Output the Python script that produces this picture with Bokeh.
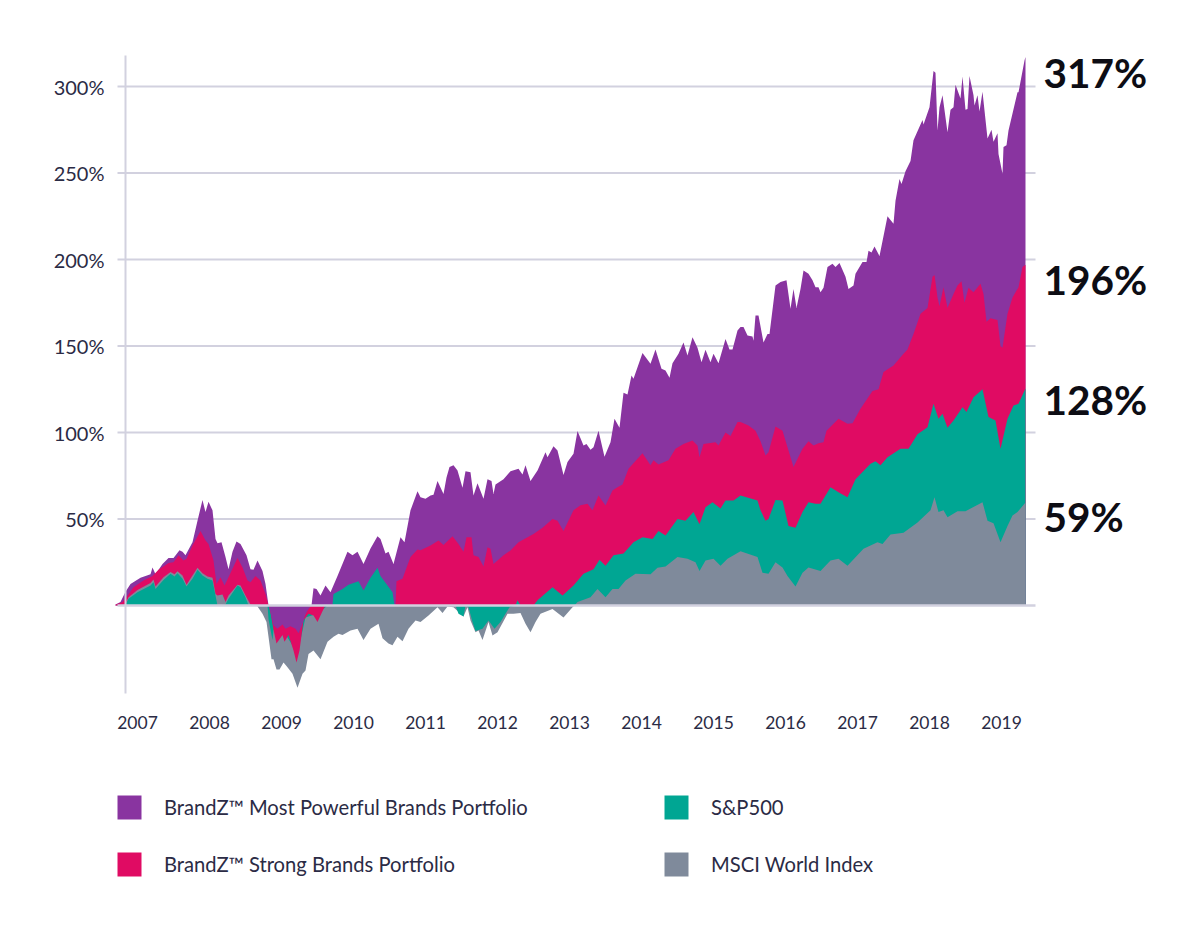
from bokeh.embed import file_html
from bokeh.models import (ColumnDataSource, FixedTicker, Label, Legend, LegendItem, LinearAxis, Range1d)
from bokeh.plotting import figure
from bokeh.resources import INLINE
import numpy as np

YEARS = list(range(2007, 2020))
Y_TICKS = [50, 100, 150, 200, 250, 300]
NAMES = ["BrandZ™ Most Powerful Brands Portfolio", "BrandZ™ Strong Brands Portfolio", "S&P500", "MSCI World Index"]
END_LABELS = ["317%", "196%", "128%", "59%"]
COLORS = ["#8934a0", "#e00b63", "#00a693", "#7f8a9b"]

# (period index, % return); 72 periods per year
PURPLE = [(0,0.6),(5,2),(10,8),(15,12.5),(25,16),(35,18),(37,22),(40,18),(47,24),(53,27.5),(58,27.5),(64,32),(67,31),(70,29),(77,36.6),(82,49),(87,61),(90,54),(93,60),(97,55),(100,38.5),(102,36),(106,36.6),(110,28),(113,21),(117,31),(121,37),(125,35.6),(131,29),(135,21),(138,20.6),(142,26),(147,20),(150,12.5),(153,0),
(155,-4),(158,-11.5),(162,-13.5),(167,-11),(170,-13.5),(175,-12),(180,-13.5),(183,-16),(187,-10.6),(190,-5),(193,-2),(196,0),(198,10),(201,9.6),(205,5.8),(210,11.5),(215,7.7),(222,17),(232,31),(237,29),(242,31),(248,24),(255,33),(262,40),(265,38.5),(270,30),(273,31),(278,24),(285,39.5),(289,36.6),(295,55),(302,66),
(305,62.6),(310,61.7),(315,63.6),(318,64),(322,72),(328,64.5),(331,74),(334,80),(338,81),(342,78),(347,68),(350,77.6),(355,77),(358,63.6),(362,70.7),(368,61.7),(372,73),(376,72),(378,64.5),(380,70),(388,73),(395,77.6),(403,79),(407,75.7),(410,81),(415,72),(422,78),(430,88.6),(432,85.7),(438,92),(442,89.6),(448,75.5),(452,83),(458,87.7),(462,100.8),(468,92.5),(471,93.4),(475,90),(478,91.5),(483,101),(489,86),(495,94.4),(499,108),(504,102.7),(508,123),(512,122),(516,133),(518,131),(527,146),(535,139.7),(540,148),(546,136.8),(550,135.8),(554,131.6),(557,140),(563,145.5),(568,152),(572,144.5),(577,155),(582,149),(586,140.6),(590,147.8),(595,140.6),(598,145.5),(603,140),(610,154),(614,148),(617,148),(622,159),
(625,161),(628,161),(632,156),(637,155.5),(638,153),(640,167.6),(643,167.6),(648,152),(652,157),(654,157),(660,185),(665,187),(671,188),(675,171.5),(678,183),(681,172),(685,183),(688,193.6),(693,191.7),(697,188),(700,184),(703,184),(705,181),(708,183.6),(712,195.6),(717,197.5),(720,195.6),(724,198),(730,190),(733,183),(738,185),(740,191.7),(747,198.5),(751,198.5),(753,205),(756,204),(759,207.5),(764,202),(772,225),(778,220.6),(780,234),(784,246.6),(786,243.7),(790,251),(795,257),(798,269),(807,280.7),(808,278),(814,288),(818,309),(820,308),(822,274.6),(824,288),(827,295),(832,273.6),(835,286.5),(838,288),(840,301),(845,293),(847,305.8),(850,286.5),(852,287),(854,306),(858,295),(859,289),(862,295),(864,285.5),(867,297),(872,270),(876,275),(878,268),(882,273),(883,261),(887,249.5),(888,265),(891,266),(893,274.6),(902,296.7),(903,296.7),(909,315),(910,317)]

PINK = [(0,0.4),(7,2),(12,5.7),(18,10.6),(28,14.4),(37,17),(43,20.6),(53,24.5),(58,25),(63,29),(68,26),(71,27),(77,34.7),(85,43),(90,37.6),(93,35.6),(98,26),(101,12.5),(105,16.4),(109,11.6),(113,16.4),(122,27.5),(127,22),(132,14.5),(135,13.5),(140,17),(145,14.5),(150,6.7),(153,0),
(155,-4),(158,-14),(161,-22),(167,-17),(169,-21),(173,-17),(178,-26),(181,-33),(184,-26),(188,-8.7),(193,-4.8),(198,-5.8),(202,-9.6),(205,-5.8),(208,-2),(210,0),(279,0),(280,0),(281,14),(287,15.4),(295,28),(302,32.4),
(305,32),(315,34.7),(323,37.6),(328,35),(337,40),(343,35.6),(348,31),(351,39.5),(356,39.5),(358,29),(363,28),(368,22.5),(372,33.7),(375,32.8),(378,24),(388,29),(395,31.8),(403,36.6),(418,41.4),(427,45),(437,50),(442,49),(448,43),(458,55),(465,58),(472,58.8),(477,55),(483,63.6),(490,57.8),(497,66.5),(502,68.4),(507,70),(513,79),(527,88),(535,81),(538,84),(543,81.5),(553,84),(560,90.6),(568,93.4),(577,95.4),(582,92.5),(584,85.7),(588,93.4),(600,94.4),(603,92.5),(610,100),(615,98),(622,106),
(625,106),(633,104),(640,101),(645,95),(650,86.7),(653,88.6),(660,103.5),(667,101),(672,91.5),(678,80),(687,90.6),(693,95),(698,92.5),(703,93.8),(708,94.4),(711,101),(723,108),(732,105),(737,105.4),(745,113.7),(757,124),(763,125),(768,135),(778,138.7),(788,145.5),(792,148),(798,157),(805,168.6),(812,172),(817,190),(819,191),(822,178),(824,173),(828,184),(832,172),(838,180),(842,185),(846,187.5),(849,175),(853,183.6),(858,181),(865,186),(868,180),(871,164),(875,166),(882,165),(885,150),(887,149),(892,168.6),(897,178),(903,184),(907,195.6),(910,197)]

TEAL = [(0,0),(10,0.6),(13,3.9),(22,7.7),(35,11.6),(38,13.5),(40,9.6),(48,14.8),(55,18.3),(59,16.8),(62,18.7),(67,15.4),(71,11),(77,15.4),(82,20.6),(87,17.3),(92,15.4),(97,14.5),(100,5.8),(102,0),(110,0.6),(113,3.9),(122,11.6),(125,10.6),(130,4.8),(133,0),
(152,0),(153,-8),(155,-14),(157,-20),(158,-14),(167,-14),(178,-24),(181,-30),(190,-7),(200,-5),(208,-2),(212,0),(216,0),(217,0.5),(218,6.7),(227,9.6),(233,12),(243,14),(248,8.7),(255,16),(262,21.8),(265,17),(272,11.6),(277,7.7),(279,0),
(340,0),(343,-4.8),(348,-6.4),(350,0),(353,-1),(357,-9.6),(360,-14.8),(367,-13.5),(373,-8.7),(379,-13.5),(385,-9.6),(394,-1),(400,0),(402,3),(405,0),(418,0),(422,3),(437,10.6),(447,5.8),(458,11.6),(468,18.3),(478,21),(484,26.4),(490,23),(498,29),(508,30),(518,36.6),(527,39.5),(537,38.5),(543,43),(550,40.5),(562,50),(570,49),(578,54),(584,47),(590,56.8),(597,59.7),(605,56),(610,60.7),(618,60.7),
(625,63.6),(642,60.7),(645,55),(650,49),(653,50),(660,61),(667,60.7),(673,46),(680,45),(687,54),(693,59.7),(700,58.8),(705,58.8),(715,68.4),(723,65.5),(732,62.6),(740,73),(755,82),(760,83.4),(765,81),(772,85.7),(785,90.6),(793,90.6),(802,99),(812,103),(818,116.6),(823,108),(827,110.8),(832,102.7),(838,107),(847,114.6),(851,111.8),(858,120.4),(867,125),(873,108.9),(880,107),(885,90.6),(892,108),(898,115.6),(903,116.6),(910,125.5)]

MSCI_EARLY = [(10,1.3),(13,4.8),(22,9),(35,13),(38,15),(40,11),(48,16.4),(55,19.3),(59,18),(62,19.8),(67,17.3),(71,12),(77,17.3),(82,21.8),(87,18.7),(92,16.8),(97,16),(100,6.7),(102,5.8),(107,6.4),(110,2),(113,5.8),(122,12),(125,11.6),(130,5.8),(135,0.6),(142,0)]

MSCI = [(142,-0.6),(147,-4.8),(151,-9.6),(153,-18),(156,-31),(158,-31),(161,-37),(164,-37),(168,-33),(171,-35),(177,-39.5),(182,-47.6),(187,-39.5),(190,-37.6),(193,-28),(198,-26),(205,-31),(212,-21),(218,-18),(223,-16.4),(227,-17),(235,-14.5),(242,-13.5),(248,-20),(255,-13.5),(263,-10.6),(267,-19),(273,-22),(277,-23),(282,-18),(287,-20.6),(293,-13.5),(300,-8.7),
(305,-9.6),(313,-5.8),(322,-1),(327,-4.4),(332,-0.6),(338,-1),(348,-6.4),(352,-1),(355,-8.7),(360,-15.4),(363,-14.5),(367,-20),(373,-9.6),(377,-17.3),(382,-15.4),(392,-4.8),(398,-4.8),(405,-4.4),(410,-10.6),(415,-15.4),(420,-9.6),(425,-4.8),(437,-2),(448,-7),(457,-1),(459,0),
(462,2),(475,4.8),(482,9.6),(490,4.8),(497,9.6),(503,9.6),(510,14.4),(520,18.3),(535,18),(542,21.8),(550,22.5),(562,28),(572,27),(580,25),(584,20),(590,26),(598,27),(605,23),(612,27),
(625,31.4),(642,28),(647,19),(653,18.3),(660,25),(667,22),(672,17),(680,11),(687,19),(693,22),(705,20),(715,26),(723,27),(732,23),(748,32.8),(762,36.6),(767,35.6),(775,41),(788,42),(802,48),(815,55),(819,62.6),(823,54),(828,55),(832,51),(842,54.5),(850,54.5),(867,59.7),(872,49),(878,47.6),(885,36.6),(892,46),(897,52),(902,54),(910,59.5)]

TEXT = "#2b2b45"
RULE = "#d2d1df"
FONT = "Lato"
PER_YEAR = 72.0
PX_PER_PCT = 1.73
W, H = 1190, 930
X0_PX, Y0_PX = 115, 605        # where the first period and the 0% line sit on the page
START_YEAR = 2006.694


def to_source(points):
    arr = np.array(points, dtype=float)
    return ColumnDataSource(dict(
        x=START_YEAR + arr[:, 0] / PER_YEAR,
        zero=np.zeros(len(arr)),
        pos=np.clip(arr[:, 1], 0, None),
        neg=np.clip(arr[:, 1], None, 0),
    ))


def yr(px):
    return START_YEAR + (px - X0_PX) / PER_YEAR


def pct(py):
    return (Y0_PX - py) / PX_PER_PCT


def rules(levels, width):
    p.segment(x0=[yr(117)] * len(levels), x1=[yr(1035)] * len(levels), y0=levels, y1=levels,
              line_color=RULE, line_width=width)


p = figure(width=W, height=H, output_backend="svg", toolbar_location=None,
           x_range=Range1d(yr(0), yr(W)), y_range=Range1d(pct(H), pct(0)),
           x_axis_type=None, y_axis_type=None, min_border=0,
           background_fill_color="white", border_fill_color="white", outline_line_color=None)
p.grid.visible = False

yaxis = LinearAxis(ticker=FixedTicker(ticks=Y_TICKS),
                   major_label_overrides={v: f"{v}%" for v in Y_TICKS},
                   fixed_location=yr(125), bounds=(pct(693), pct(55)))
yaxis.axis_line_color = RULE
yaxis.axis_line_width = 2
yaxis.major_tick_line_color = None
yaxis.minor_tick_line_color = None
yaxis.major_label_standoff = 15
yaxis.major_label_text_font = FONT
yaxis.major_label_text_font_size = "20px"
yaxis.major_label_text_color = TEXT
p.add_layout(yaxis, "left")

xaxis = LinearAxis(ticker=FixedTicker(ticks=YEARS),
                   major_label_overrides={y: str(y) for y in YEARS},
                   fixed_location=pct(693))
xaxis.axis_line_color = None
xaxis.major_tick_line_color = None
xaxis.minor_tick_line_color = None
xaxis.major_label_standoff = 16
xaxis.major_label_text_font = FONT
xaxis.major_label_text_font_size = "17.5px"
xaxis.major_label_text_color = TEXT
p.add_layout(xaxis, "below")

rules(Y_TICKS, 2)

sources = [to_source(s) for s in (PURPLE, PINK, TEAL, MSCI)]
early = to_source(MSCI_EARLY)

renderers = [None] * 4
for i in (0, 1):
    renderers[i] = p.varea(x="x", y1="zero", y2="pos", source=sources[i], fill_color=COLORS[i])
p.varea(x="x", y1="zero", y2="pos", source=early, fill_color=COLORS[3])
for i in (2, 3):
    renderers[i] = p.varea(x="x", y1="zero", y2="pos", source=sources[i], fill_color=COLORS[i])
for i in (3, 2, 1, 0):
    p.varea(x="x", y1="zero", y2="neg", source=sources[i], fill_color=COLORS[i])

rules([0], 2.5)

END_Y = [72, 279, 399, 516]
for text, py in zip(END_LABELS, END_Y):
    p.add_layout(Label(x=1043, y=H - py, x_units="screen", y_units="screen",
                       text=text, text_font=FONT, text_font_style="bold", text_font_size="40.5px",
                       text_color="#0d0d14", text_baseline="middle", text_align="left"))

legend = Legend(items=[LegendItem(label=NAMES[i], renderers=[renderers[i]]) for i in range(4)],
                nrows=2, location=(114, H - 879), orientation="vertical",
                glyph_width=30, glyph_height=30, label_standoff=20, spacing=27,
                label_width=470, margin=0, padding=0,
                label_text_font=FONT, label_text_font_size="20.2px", label_text_color=TEXT,
                background_fill_alpha=0, border_line_color=None)
p.add_layout(legend, "center")

open("out.html", "w").write(file_html(p, INLINE))
